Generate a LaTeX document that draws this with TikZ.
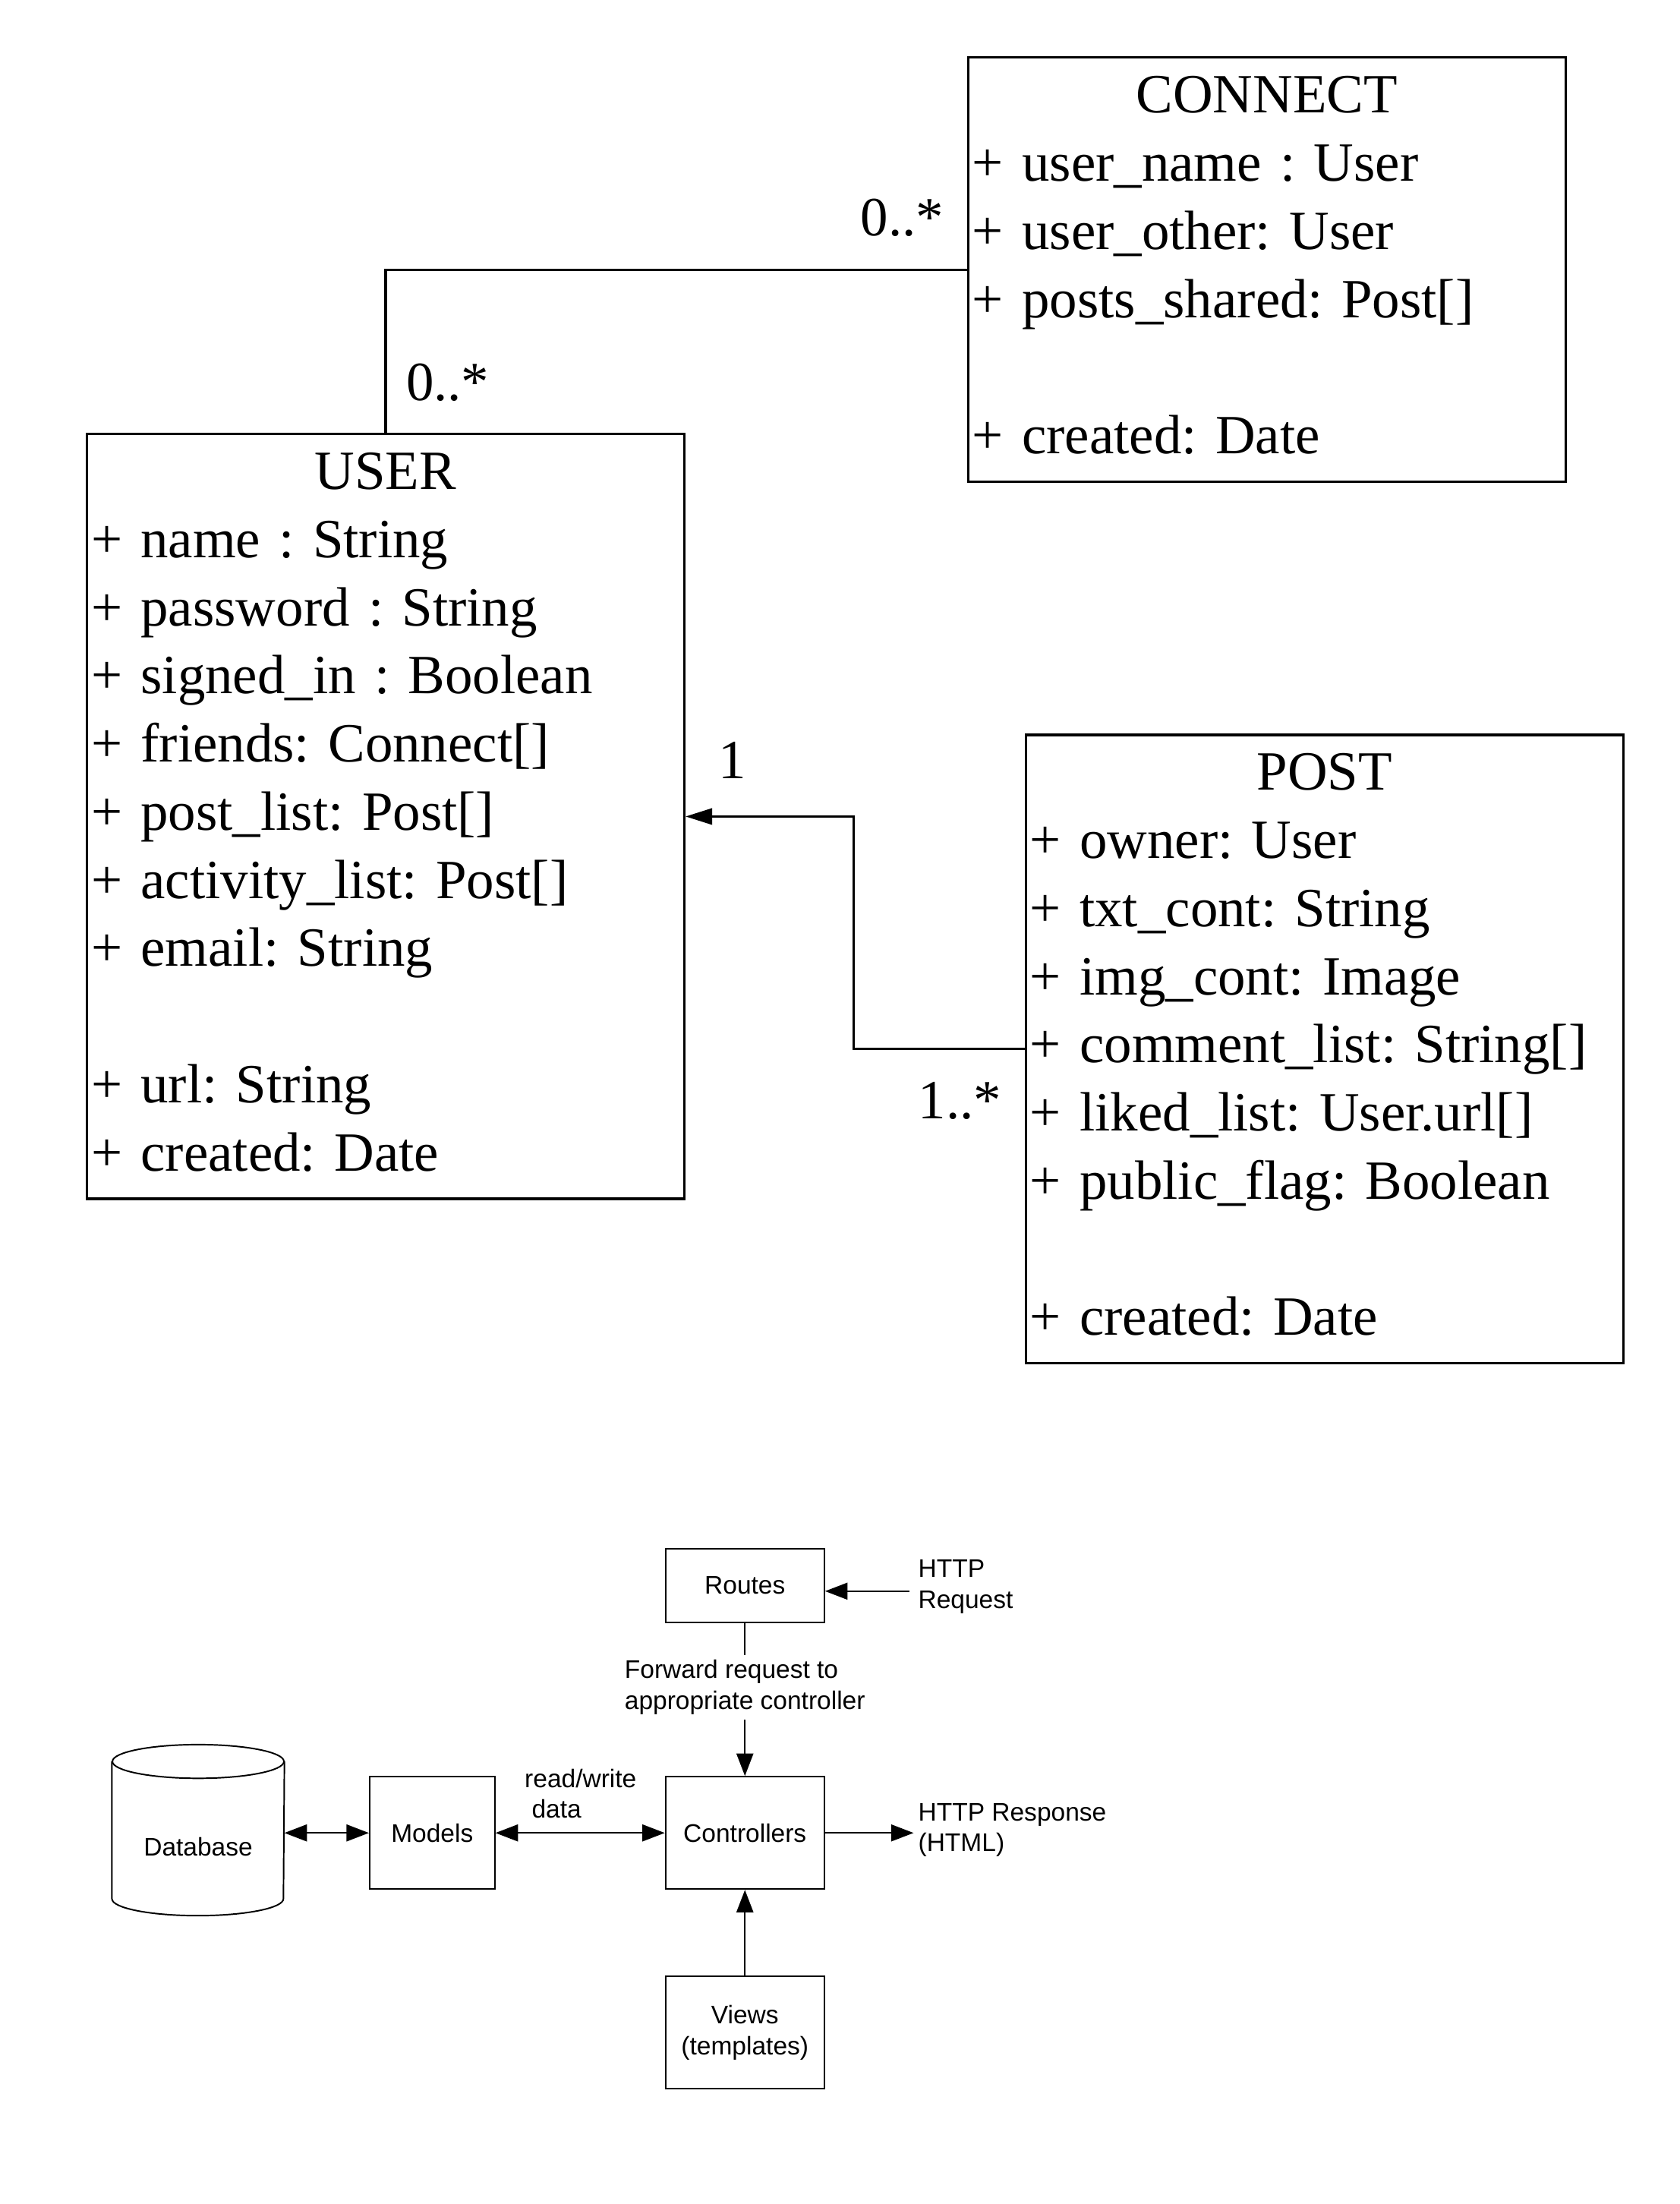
\documentclass[tikz,border=0pt]{standalone}
\usepackage{fontspec}
\setmainfont{Liberation Serif}
\setsansfont{Liberation Sans}
\usetikzlibrary{arrows.meta}
\frenchspacing

\begin{document}
\begin{tikzpicture}[>={Triangle[length=3.2mm,width=2.4mm]},
    classbox/.style={draw, line width=1pt, anchor=north west, text width=8.38cm,
        inner xsep=0.06cm, inner ysep=0.1cm, align=left,
        font=\fontsize{22.4}{27.6}\selectfont,
        execute at begin node=\strut, execute at end node=\strut},
    mult/.style={font=\fontsize{22.4}{27.6}\selectfont, inner sep=0pt},
    box/.style={draw, line width=0.6pt, minimum width=2.26cm, minimum height=1.6cm,
        align=center, font=\sffamily\fontsize{10.3}{12.5}\selectfont},
    lbl/.style={align=left, inner sep=0pt, font=\sffamily\fontsize{10.3}{12.5}\selectfont}]
    \useasboundingbox (0, 0) rectangle (23.9, -31.36);

    % class diagram
    \node[classbox, minimum height=6.04cm] (connect) at (13.76, -0.80) {\makebox[\linewidth]{CONNECT}\\
        + user\_name : User\\
        + user\_other: User\\
        + posts\_shared: Post[]\\[\baselineskip]
        + created: Date};

    \node[classbox, minimum height=10.88cm] (user) at (1.22, -6.16) {\makebox[\linewidth]{USER}\\
        + name : String\\
        + password : String\\
        + signed\_in : Boolean\\
        + friends: Connect[]\\
        + post\_list: Post[]\\
        + activity\_list: Post[]\\
        + email: String\\[\baselineskip]
        + url: String\\
        + created: Date};

    \node[classbox, minimum height=8.94cm] (post) at (14.58, -10.44) {\makebox[\linewidth]{POST}\\
        + owner: User\\
        + txt\_cont: String\\
        + img\_cont: Image\\
        + comment\_list: String[]\\
        + liked\_list: User.url[]\\
        + public\_flag: Boolean\\[\baselineskip]
        + created: Date};

    \draw[line width=1pt] (user.north) |- (connect.west);
    \draw[line width=1pt, -{Triangle[length=3.8mm,width=2.3mm]}] (post.west) -- ++(-2.43, 0) |- (user.east);

    \node[mult] (mconnect) at (12.84, -3.10) {0..*};
    \node[mult] (muser) at (6.37, -5.44) {0..*};
    \node[mult] (mone) at (10.42, -10.82) {1};
    \node[mult] (mmany) at (13.66, -15.66) {1..*};

    % request flow
    \node[box, minimum height=1.04cm] (routes) at (10.60, -22.56) {Routes};
    \node[box] (controllers) at (10.60, -26.08) {Controllers};
    \node[box, minimum width=1.78cm] (models) at (6.15, -26.08) {Models};
    \node[box] (views) at (10.60, -28.92) {Views\\(templates)};
    \node[lbl, minimum width=2.44cm, minimum height=1.94cm, align=center] (db) at (2.82, -26.28) {Database};
    \draw[line width=0.6pt] ([yshift=0.24cm]db.north west) -- ([yshift=0.24cm]db.south west)
        arc[start angle=180, end angle=360, x radius=1.22cm, y radius=0.24cm] -- ([yshift=0.24cm]db.north east);
    \draw[line width=0.6pt] ([yshift=0.24cm]db.north) ellipse[x radius=1.22cm, y radius=0.24cm];

    \node[lbl, anchor=west] (req) at (13.06, -22.58) {HTTP\\Request};
    \node[lbl, anchor=west] (resp) at (13.06, -26.04) {HTTP Response\\(HTML)};
    \node[lbl, anchor=west] (rw) at (7.46, -25.52) {read/write\\\ data};
    \coordinate (reqin) at ([xshift=-0.12cm, yshift=-0.06cm]req.west);

    \draw[line width=0.6pt, ->] (reqin) -- (routes.east |- reqin);
    \draw[line width=0.6pt, ->] (routes) -- (controllers)
        node[lbl, pos=0.42, fill=white, inner sep=2pt] (fwd) {Forward request to\\appropriate controller};
    \draw[line width=0.6pt, <->] (db.east |- models.west) -- (models.west);
    \draw[line width=0.6pt, <->] (models) -- (controllers);
    \draw[line width=0.6pt, ->] (controllers.east) -- ([xshift=-0.06cm]resp.west |- controllers.east);
    \draw[line width=0.6pt, ->] (views) -- (controllers);
\end{tikzpicture}
\end{document}
